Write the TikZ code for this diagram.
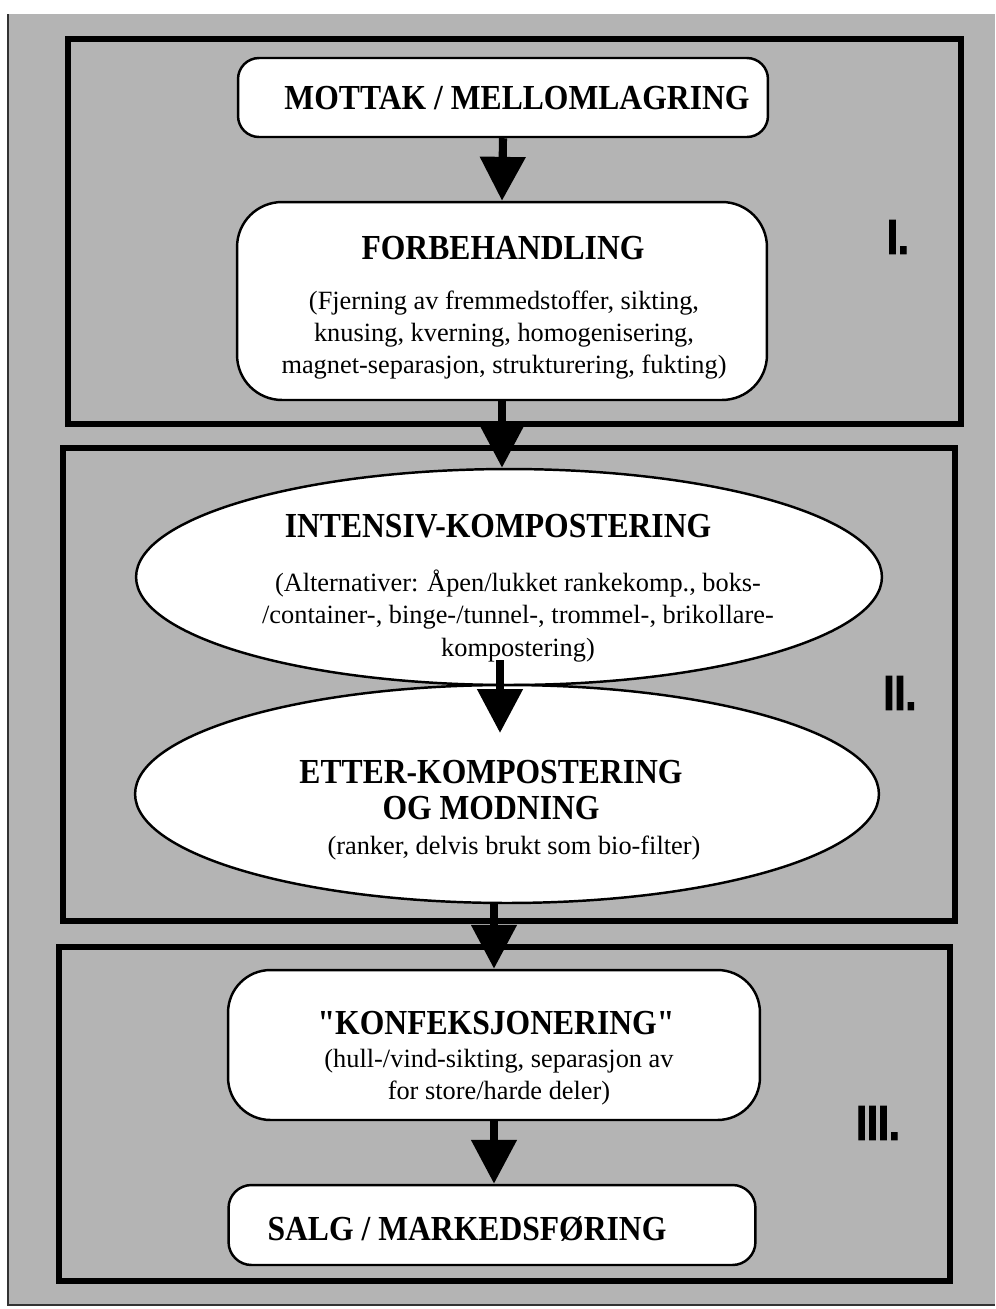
\documentclass[tikz,border=0pt]{standalone}
\usepackage{fontspec}
\setmainfont{Liberation Serif}
\newfontfamily\ttlfam[FakeStretch=0.9]{Liberation Serif}
\newfontfamily\romfam[FakeStretch=0.8, BoldFeatures={FakeBold=2}]{Liberation Sans}
\usetikzlibrary{shapes.geometric,arrows.meta}
\definecolor{bggray}{RGB}{180,180,180}
\tikzset{
  frame/.style={draw=black, line width=3.4pt},
  rbox/.style={draw=black, fill=white, line width=1.4pt, inner sep=0pt},
  oval/.style={ellipse, draw=black, fill=white, line width=1.4pt, inner sep=0pt},
  flow/.style={line width=4.6pt, -{Triangle[width=25pt,length=25pt]}},
  ttl/.style={font=\ttlfam\bfseries\fontsize{20}{20.5}\selectfont, align=center, inner sep=0pt},
  body/.style={font=\fontsize{15}{18.4}\selectfont, align=center, inner sep=0pt},
  roman/.style={font=\romfam\bfseries\fontsize{28}{28}\selectfont, inner sep=0pt}
}
\begin{document}
\begin{tikzpicture}[x=0.02cm,y=-0.02cm]
\useasboundingbox (0,0) rectangle (995,1309);
\fill[white] (0,0) rectangle (995,1309);
\fill[bggray] (8,14) rectangle (995,1305);
\draw[line width=1.2pt, black!80] (8,14) -- (8,1305) -- (995,1305);

% section frames
\draw[frame] (68,39) rectangle (961,424);
\draw[frame] (63,448) rectangle (955,921);
\draw[frame] (59,947) rectangle (950,1281);

% roman numerals
\node[roman] (r1) at (898,237) {I.};
\node[roman] (r2) at (900,693) {II.};
\node[roman] (r3) at (878,1123) {III.};

% stage I
\node[rbox, rounded corners=0.42cm, minimum width=10.6cm, minimum height=1.58cm] (mottak) at (503,97.5) {};
\node[ttl] (mottakT) at (517,98) {MOTTAK / MELLOMLAGRING};

\node[rbox, rounded corners=0.9cm, minimum width=10.6cm, minimum height=3.96cm] (forb) at (502,301) {};
\node[ttl] (forbT) at (503,248) {FORBEHANDLING};
\node[body] (forbB) at (504,335) {(Fjerning av fremmedstoffer, sikting,\\knusing, kverning, homogenisering,\\magnet-separasjon, strukturering, fukting)};

% stage II
\node[oval, minimum width=14.92cm, minimum height=4.32cm] (int) at (509,577) {};
\node[ttl] (intT) at (498,526) {INTENSIV-KOMPOSTERING};
\node[body] (intB) at (518,616) {(Alternativer: Åpen/lukket rankekomp., boks-\\/container-, binge-/tunnel-, trommel-, brikollare-\\kompostering)};

\node[oval, minimum width=14.88cm, minimum height=4.36cm] (ett) at (507,794) {};
\node[ttl] (ettT) at (491,790) {ETTER-KOMPOSTERING\\OG MODNING};
\node[body] (ettB) at (514,848) {(ranker, delvis brukt som bio-filter)};

% stage III
\node[rbox, rounded corners=0.85cm, minimum width=10.64cm, minimum height=3cm] (konf) at (494,1045) {};
\node[ttl] (konfT) at (496,1023) {"KONFEKSJONERING"};
\node[body] (konfB) at (499,1077) {(hull-/vind-sikting, separasjon av\\for store/harde deler)};

\node[rbox, rounded corners=0.46cm, minimum width=10.54cm, minimum height=1.6cm] (salg) at (492,1225) {};
\node[ttl] (salgT) at (467,1229) {SALG / MARKEDSFØRING};

% connectors
\coordinate (a3s) at (500,660);
\coordinate (a3e) at (500,733);
\draw[flow] (mottak.south) -- (forb.north);
\draw[flow] (forb.south) -- (forb.south |- int.north);
\draw[flow] (a3s) -- (a3e);
\draw[flow] (ett.south -| konf.north) -- (konf.north);
\draw[flow] (konf.south) -- (konf.south |- salg.north);
\end{tikzpicture}
\end{document}
